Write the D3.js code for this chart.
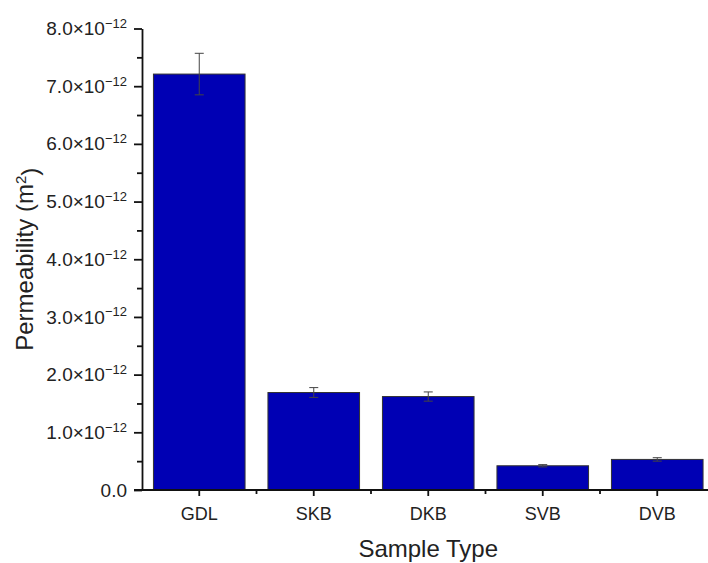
<!DOCTYPE html>
<html>
<head>
<meta charset="utf-8">
<script src="https://cdn.jsdelivr.net/npm/d3@7"></script>
<style>
  body { margin: 0; background: #fff; }
  text { font-family: "Liberation Sans", Arial, sans-serif; fill: #222; }
</style>
</head>
<body>
<div id="chart"></div>
<script>
// permeability per sample type, in m^2
var categories = ["GDL", "SKB", "DKB", "SVB", "DVB"];
var permeability = [7.21e-12, 1.69e-12, 1.62e-12, 0.42e-12, 0.53e-12];
var errors = [0.36e-12, 0.085e-12, 0.08e-12, 0.02e-12, 0.03e-12];
var yTicks = [0, 1e-12, 2e-12, 3e-12, 4e-12, 5e-12, 6e-12, 7e-12, 8e-12];

var width = 708, height = 563;
var plotLeft = 142, plotBottom = 490, plotTop = 28.5;
var plotRight = plotLeft + 5 * 114.5;

var data = categories.map(function(c, i) {
  return { name: c, value: permeability[i], err: errors[i] };
});

var svg = d3.select("#chart").append("svg")
  .attr("width", width)
  .attr("height", height);

var x = d3.scaleBand()
  .domain(categories)
  .range([plotLeft, plotRight])
  .paddingInner(0.2)
  .paddingOuter(0.1);

var y = d3.scaleLinear()
  .domain([0, 8e-12])
  .range([plotBottom, plotTop]);

// bars
svg.selectAll("rect.bar")
  .data(data)
  .enter().append("rect")
  .attr("class", "bar")
  .attr("x", function(d) { return x(d.name); })
  .attr("y", function(d) { return y(d.value); })
  .attr("width", x.bandwidth())
  .attr("height", function(d) { return y(0) - y(d.value); })
  .style("fill", "#0000b4")
  .style("stroke", "#333")
  .style("stroke-width", 1);

// error bars
var eb = svg.selectAll("g.err")
  .data(data)
  .enter().append("g")
  .attr("class", "err")
  .style("stroke", "#444")
  .style("stroke-width", 1);

eb.append("line")
  .attr("x1", function(d) { return x(d.name) + x.bandwidth() / 2; })
  .attr("x2", function(d) { return x(d.name) + x.bandwidth() / 2; })
  .attr("y1", function(d) { return y(d.value + d.err); })
  .attr("y2", function(d) { return y(d.value - d.err); });

[1, -1].forEach(function(s) {
  eb.append("line")
    .attr("x1", function(d) { return x(d.name) + x.bandwidth() / 2 - 4.5; })
    .attr("x2", function(d) { return x(d.name) + x.bandwidth() / 2 + 4.5; })
    .attr("y1", function(d) { return y(d.value + s * d.err); })
    .attr("y2", function(d) { return y(d.value + s * d.err); });
});

// y axis, minor ticks first
var yMinor = d3.range(0.5e-12, 8e-12, 1e-12);
svg.append("g")
  .attr("transform", "translate(" + plotLeft + ",0)")
  .call(d3.axisLeft(y).tickValues(yMinor).tickSize(5).tickFormat(""))
  .call(function(g) { g.select(".domain").remove(); })
  .selectAll("line").style("stroke", "#111").style("stroke-width", 1.8);

var yAxis = svg.append("g")
  .attr("transform", "translate(" + plotLeft + ",0)")
  .call(d3.axisLeft(y).tickValues(yTicks).tickSize(8).tickSizeOuter(0).tickPadding(7).tickFormat(""));

yAxis.selectAll("line, path").style("stroke", "#111").style("stroke-width", 1.8);

yAxis.selectAll(".tick text")
  .style("font-size", "19px")
  .style("fill", "#222")
  .each(function(d) {
    var t = d3.select(this);
    var m = Math.round(d / 1e-12);
    if (m === 0) {
      t.text("0.0");
    } else {
      t.append("tspan").text(m.toFixed(1) + "\u00d710");
      t.append("tspan").attr("dy", "-0.55em").style("font-size", "13px").text("\u221212");
    }
  });

// x axis
var xAxis = svg.append("g")
  .attr("transform", "translate(0," + plotBottom + ")")
  .call(d3.axisBottom(x).tickSize(6).tickSizeOuter(0).tickPadding(11));

xAxis.select(".domain").attr("d", "M" + (plotLeft - 8) + ",0H" + plotRight);
xAxis.selectAll("line, path").style("stroke", "#111").style("stroke-width", 1.8);
xAxis.selectAll(".tick text").style("font-size", "18px").style("fill", "#222");

// x minor ticks between categories
var xMinor = categories.slice(0, -1).map(function(c) { return x(c) + x.step() - (x.step() - x.bandwidth()) / 2; });
svg.selectAll("line.xminor")
  .data(xMinor)
  .enter().append("line")
  .attr("class", "xminor")
  .attr("x1", function(d) { return d; })
  .attr("x2", function(d) { return d; })
  .attr("y1", plotBottom)
  .attr("y2", plotBottom + 4)
  .style("stroke", "#111")
  .style("stroke-width", 1.8);

// axis titles
svg.append("text")
  .attr("x", x(categories[2]) + x.bandwidth() / 2)
  .attr("y", 557)
  .attr("text-anchor", "middle")
  .style("font-size", "24px")
  .text("Sample Type");

var yt = svg.append("text")
  .attr("transform", "translate(33," + ((plotTop + plotBottom) / 2) + ") rotate(-90)")
  .attr("text-anchor", "middle")
  .style("font-size", "24px");
yt.append("tspan").text("Permeability (m");
yt.append("tspan").attr("dy", "-0.5em").style("font-size", "15px").text("2");
yt.append("tspan").attr("dy", "0.5em").text(")");
</script>
</body>
</html>
